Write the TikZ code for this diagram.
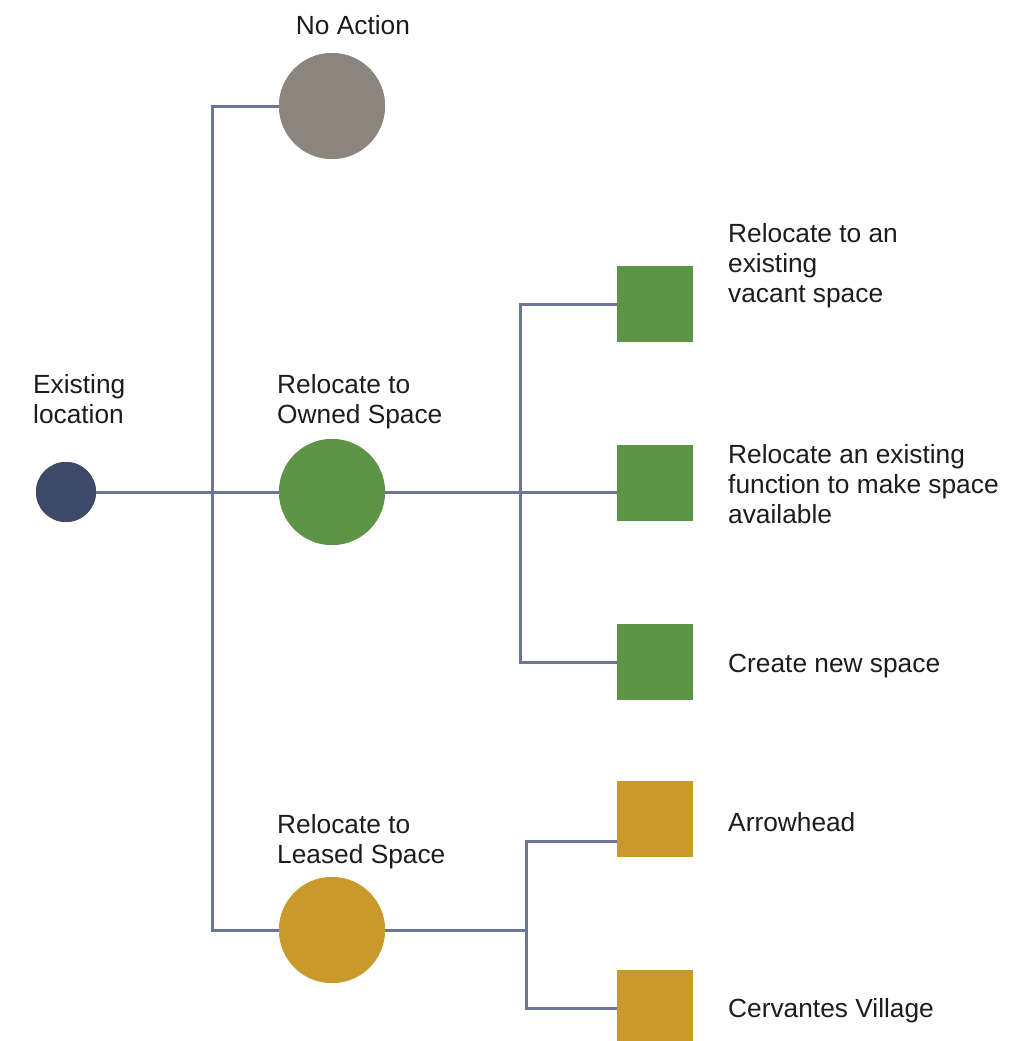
\documentclass[tikz,border=0pt]{standalone}
\usepackage{fontspec}
\setmainfont{Liberation Sans}
\usetikzlibrary{calc}
\definecolor{navy}{HTML}{3E4868}
\definecolor{stone}{HTML}{8A867B}
\definecolor{leaf}{HTML}{5E9446}
\definecolor{gold}{HTML}{C99A2B}
\definecolor{wire}{HTML}{6A7598}
\definecolor{ink}{HTML}{1C1C1C}
\begin{document}
\begin{tikzpicture}[x=1pt,y=-1pt,
  bigdot/.style={circle,draw=none,minimum size=106pt,inner sep=0pt},
  sq/.style={rectangle,draw=none,minimum size=76pt,inner sep=0pt},
  lbl/.style={anchor=base west,align=left,inner sep=0pt,text=ink,font=\fontsize{26.3}{30}\selectfont},
  wirestyle/.style={draw=wire,line width=3pt}]
\useasboundingbox (0,0) rectangle (1026,1041);
% nodes
\node[circle,fill=navy,minimum size=60pt,inner sep=0pt] (ex) at (66,492) {};
\node[bigdot,fill=stone] (na) at (332,106) {};
\node[bigdot,fill=leaf] (ow) at (332,492) {};
\node[bigdot,fill=gold] (le) at (332,930) {};
\node[sq,fill=leaf] (s1) at (655,304) {};
\node[sq,fill=leaf] (s2) at (655,483) {};
\node[sq,fill=leaf] (s3) at (655,662) {};
\node[sq,fill=gold] (s4) at (655,819) {};
\node[sq,fill=gold] (s5) at (655,1008) {};
\coordinate (t) at (212,492);
\coordinate (b1) at (520,492);
\coordinate (b2) at (526,930);
\coordinate (c4) at (617,841);
% connectors
\draw[wirestyle] (na.west) -| (t) |- (le.west);
\draw[wirestyle] (ex) -- (ow);
\draw[wirestyle] (ow) -- (s2.west |- ow);
\draw[wirestyle] (s1.west) -| (b1) |- (s3.west);
\draw[wirestyle] (le) -- (b2);
\draw[wirestyle] (c4) -| (b2) |- (s5.west);
% redraw nodes on top
\node[circle,fill=navy,minimum size=60pt,inner sep=0pt] at (ex) {};
\node[bigdot,fill=stone] at (na) {};
\node[bigdot,fill=leaf] at (ow) {};
\node[bigdot,fill=gold] at (le) {};
\node[sq,fill=leaf] at (s1) {};
\node[sq,fill=leaf] at (s2) {};
\node[sq,fill=leaf] at (s3) {};
\node[sq,fill=gold] at (s4) {};
\node[sq,fill=gold] at (s5) {};
% labels (base anchor = baseline of last line)
\node[lbl,anchor=base] (tna) at (353,35) {No Action};
\node[lbl] (tex) at (33,423) {Existing\\location};
\node[lbl] (tow) at (277,423) {Relocate to\\Owned Space};
\node[lbl] (tle) at (277,863) {Relocate to\\Leased Space};
\node[lbl] (t1) at (728,302) {Relocate to an\\existing\\vacant space};
\node[lbl] (t2) at (728,523) {Relocate an existing\\function to make space\\available};
\node[lbl] (t3) at (728,672) {Create new space};
\node[lbl] (t4) at (728,831) {Arrowhead};
\node[lbl] (t5) at (728,1017) {Cervantes Village};
\end{tikzpicture}
\end{document}
